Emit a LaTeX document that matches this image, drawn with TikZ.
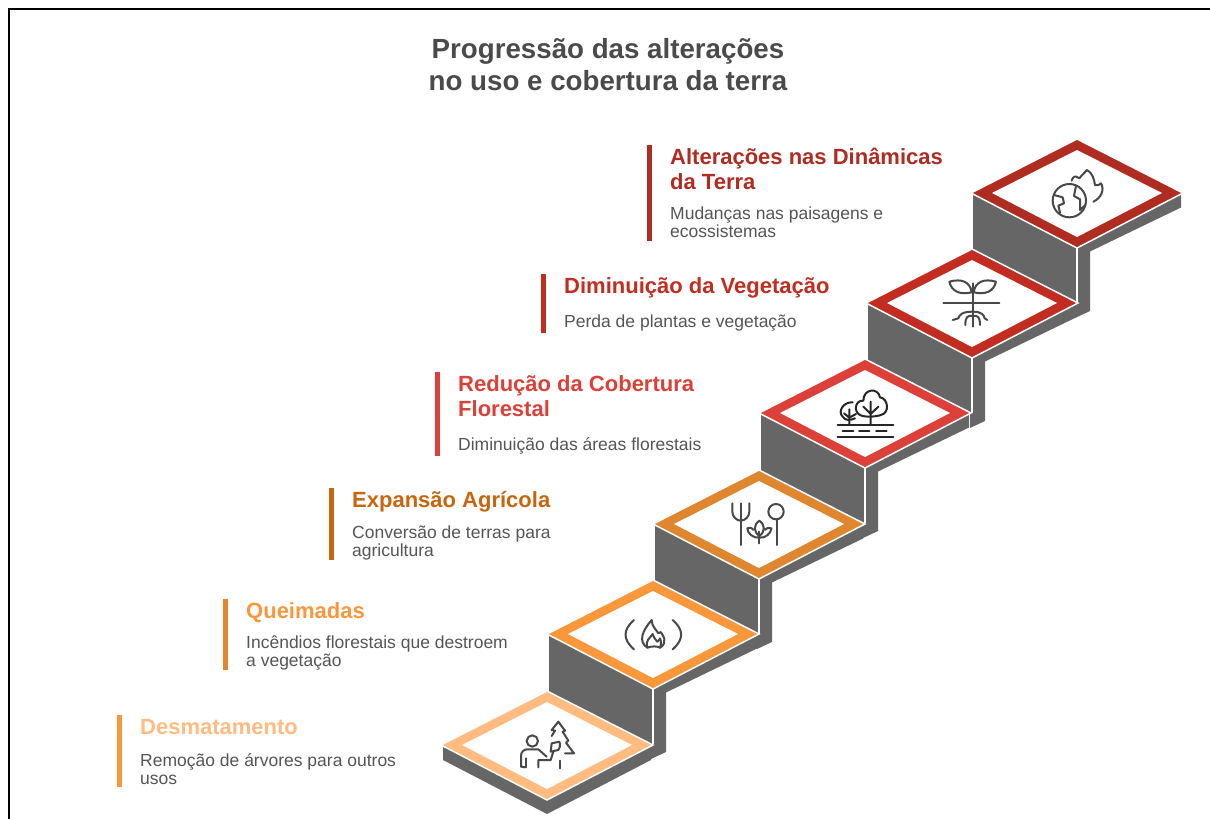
\documentclass[tikz,border=0pt]{standalone}
\usepackage{fontspec}
\setmainfont{Liberation Sans}
\definecolor{TextoCinza}{HTML}{555555}
\definecolor{TituloCinza}{HTML}{4A4A4A}
\definecolor{DegrauCinza}{HTML}{666666}
\definecolor{IconeCinza}{HTML}{484848}
\definecolor{Desmatamento}{HTML}{FFBB80}
\definecolor{Queimadas}{HTML}{F9973B}
\definecolor{Agricola}{HTML}{E0862F}
\definecolor{AgricolaEscuro}{HTML}{C8650F}
\definecolor{Florestal}{HTML}{DD4038}
\definecolor{Vegetacao}{HTML}{C32C20}
\definecolor{Dinamicas}{HTML}{B02B20}
\tikzset{
  titulo/.style={anchor=north west, inner sep=0pt, align=left, font=\fontsize{22}{25}\selectfont\bfseries},
  descricao/.style={anchor=north west, inner sep=0pt, align=left, text=TextoCinza, font=\fontsize{17.5}{18}\selectfont},
  icone/.style={draw=IconeCinza, line width=2pt, line cap=round, line join=round}
}
\begin{document}
\begin{tikzpicture}[x=1pt, y=-1pt]
  \useasboundingbox (0,0) rectangle (1210,819);
  \draw[line width=2pt, black] (9,819) -- (9,9) -- (1210,9);
  % steps, top one first
  \foreach \x/\y/\c in {1077/140/Dinamicas, 972/250/Vegetacao, 865/360/Florestal, 759/471/Agricola, 653/581/Queimadas} {
    \fill[DegrauCinza] (\x-104,\y+53) -- (\x+104,\y+53) -- (\x+104,\y+67.5) -- (\x+13,\y+111.5) -- (\x+13,\y+171) -- (\x-2,\y+178) -- (\x-2,\y+165) -- (\x-104,\y+112) -- cycle;
    \draw[white, line width=1.5pt] (\x,\y+107) -- (\x,\y+163);
    \filldraw[fill=\c, draw=white, line width=1.5pt] (\x,\y-1) -- (\x+106,\y+53) -- (\x,\y+108) -- (\x-106,\y+53) -- cycle;
    \fill[white] (\x,\y+10) -- (\x+85,\y+53) -- (\x,\y+97) -- (\x-85,\y+53) -- cycle;
  }
  \fill[DegrauCinza] (443,745) -- (651,745) -- (651,760) -- (547,814) -- (443,760) -- cycle;
  \filldraw[fill=Desmatamento, draw=white, line width=1.5pt] (547,691) -- (653,745) -- (547,800) -- (441,745) -- cycle;
  \fill[white] (547,702) -- (632,745) -- (547,789) -- (462,745) -- cycle;
  % bars
  \foreach \x/\a/\b/\c in {649.5/145/241/Dinamicas, 543.5/274/333/Vegetacao, 437.5/372/456/Florestal, 331.5/488/560/AgricolaEscuro, 225.5/599/670/Agricola, 119.5/715/787/Queimadas} {
    \draw[\c, line width=5pt] (\x,\a) -- (\x,\b);
  }
  % texts
  \node[anchor=north, inner sep=0pt, align=center, text=TituloCinza, font=\fontsize{27.7}{32}\selectfont\bfseries] (titulo) at (608,38) {Progressão das alterações\\no uso e cobertura da terra};
  \node[titulo, text=Dinamicas] (t6) at (670,148) {Alterações nas Dinâmicas\\da Terra};
  \node[descricao] (d6) at (670,207) {Mudanças nas paisagens e\\ecossistemas};
  \node[titulo, text=Vegetacao] (t5) at (564,277) {Diminuição da Vegetação};
  \node[descricao] (d5) at (564,315) {Perda de plantas e vegetação};
  \node[titulo, text=Florestal] (t4) at (458,375) {Redução da Cobertura\\Florestal};
  \node[descricao] (d4) at (458,437) {Diminuição das áreas florestais};
  \node[titulo, text=AgricolaEscuro] (t3) at (352,491) {Expansão Agrícola};
  \node[descricao] (d3) at (352,526) {Conversão de terras para\\agricultura};
  \node[titulo, text=Queimadas] (t2) at (246,602) {Queimadas};
  \node[descricao] (d2) at (246,636) {Incêndios florestais que destroem\\a vegetação};
  \node[titulo, text=Desmatamento] (t1) at (140,719) {Desmatamento};
  \node[descricao] (d1) at (140,753) {Remoção de árvores para outros\\usos};
  % globe and flame
  \begin{scope}[shift={(1030,160)}, scale=1/3]
    \draw[icone] (118,122) circle (50);
    \draw[icone] (72,105) -- (98,112) -- (102,130) -- (85,137) -- (90,158);
    \draw[icone] (138,78) -- (132,108) -- (150,118) -- (150,150) -- (166,135);
    \draw[icone] (125,62) .. controls (128,50) and (135,45) .. (148,55) .. controls (155,45) and (165,38) .. (170,30) .. controls (190,40) and (192,60) .. (195,75) .. controls (205,78) and (210,72) .. (213,70) .. controls (225,90) and (212,115) .. (190,125);
  \end{scope}
  % plant and roots
  \begin{scope}[shift={(860,240)}, scale=1/3]
    \draw[icone] (338,130) -- (338,260);
    \draw[icone] (250,188) -- (418,188);
    \draw[icone] (268,125) .. controls (305,115) and (330,125) .. (335,157) .. controls (300,165) and (275,155) .. cycle;
    \draw[icone] (408,125) .. controls (371,115) and (346,125) .. (341,157) .. controls (376,165) and (401,155) .. cycle;
    \draw[icone] (338,215) .. controls (305,215) and (298,225) .. (295,235) -- (278,240);
    \draw[icone] (338,228) .. controls (322,225) and (316,232) .. (316,255);
    \draw[icone] (338,228) .. controls (354,225) and (360,232) .. (360,255);
    \draw[icone] (338,215) .. controls (365,215) and (372,225) .. (374,235) -- (382,240);
  \end{scope}
  % trees
  \begin{scope}[shift={(750,350)}, scale=1/3]
    \draw[icone, draw=black!85] (330,195) .. controls (310,185) and (315,150) .. (340,152) .. controls (340,115) and (385,112) .. (390,142) .. controls (415,145) and (420,190) .. (392,195) .. controls (380,200) and (345,203) .. (330,195);
    \draw[icone, draw=black!85] (362,155) -- (362,222) (362,192) -- (340,170) (362,192) -- (385,170);
    \draw[icone, draw=black!85] (315,205) .. controls (300,212) and (285,212) .. (278,200) .. controls (262,185) and (280,155) .. (308,157);
    \draw[icone, draw=black!85] (298,178) -- (298,222) (298,203) -- (282,190) (298,203) -- (318,192);
    \draw[icone, draw=black!85] (263,225) -- (430,225) (263,262) -- (430,262);
    \draw[icone, draw=black!85] (278,243) -- (310,243) (327,243) -- (358,243) (378,243) -- (410,243);
  \end{scope}
  % fork, sprout and spoon
  \begin{scope}[shift={(720,490)}, scale=1/3]
    \draw[icone] (62,40) -- (62,165);
    \draw[icone] (37,40) -- (37,65) .. controls (37,80) and (50,92) .. (62,92) .. controls (75,92) and (88,80) .. (88,65) -- (88,40);
    \draw[icone] (168,65) circle (23);
    \draw[icone] (172,88) -- (172,165);
    \draw[icone] (118,92) .. controls (100,105) and (100,125) .. (118,138) .. controls (136,125) and (136,105) .. (118,92);
    \draw[icone] (118,125) -- (118,160);
    \draw[icone] (101,120) .. controls (95,112) and (85,112) .. (82,115) .. controls (82,130) and (100,145) .. (118,143) .. controls (136,145) and (154,130) .. (154,115) .. controls (151,112) and (141,112) .. (135,120);
  \end{scope}
  % flame in brackets
  \begin{scope}[shift={(430,570)}, scale=1/3]
    \draw[icone] (612,150) .. controls (578,180) and (578,208) .. (612,238);
    \draw[icone] (728,150) .. controls (762,180) and (762,208) .. (728,238);
    \draw[icone] (652,233) .. controls (625,215) and (635,185) .. (665,150) .. controls (665,170) and (680,180) .. (685,190) .. controls (692,185) and (694,185) .. (695,190) .. controls (712,215) and (700,228) .. (690,233);
    \draw[icone] (652,233) .. controls (645,210) and (660,205) .. (668,192) .. controls (672,205) and (678,210) .. (682,215) .. controls (690,210) and (690,205) .. (690,205) .. controls (696,220) and (692,228) .. (690,233) .. controls (680,228) and (665,228) .. (652,233);
  \end{scope}
  % person, axe and tree
  \begin{scope}[shift={(510,710)}, scale=1/3]
    \draw[icone] (67,93) circle (17);
    \draw[icone] (45,172) -- (33,170) -- (33,138) .. controls (33,125) and (42,118) .. (52,118) -- (85,118) -- (110,140);
    \draw[icone] (48,145) -- (48,172);
    \draw[icone] (85,172) -- (85,150) -- (122,150) -- (130,125);
    \draw[icone] (125,100) -- (148,95) .. controls (152,105) and (150,115) .. (145,120) -- (122,125) -- cycle;
    \draw[icone] (150,152) -- (150,175);
    \draw[icone] (125,78) -- (135,62) -- (125,60) -- (145,35) -- (165,62) -- (158,65) -- (175,92) -- (168,98) -- (192,130) -- (165,130);
  \end{scope}
\end{tikzpicture}
\end{document}
